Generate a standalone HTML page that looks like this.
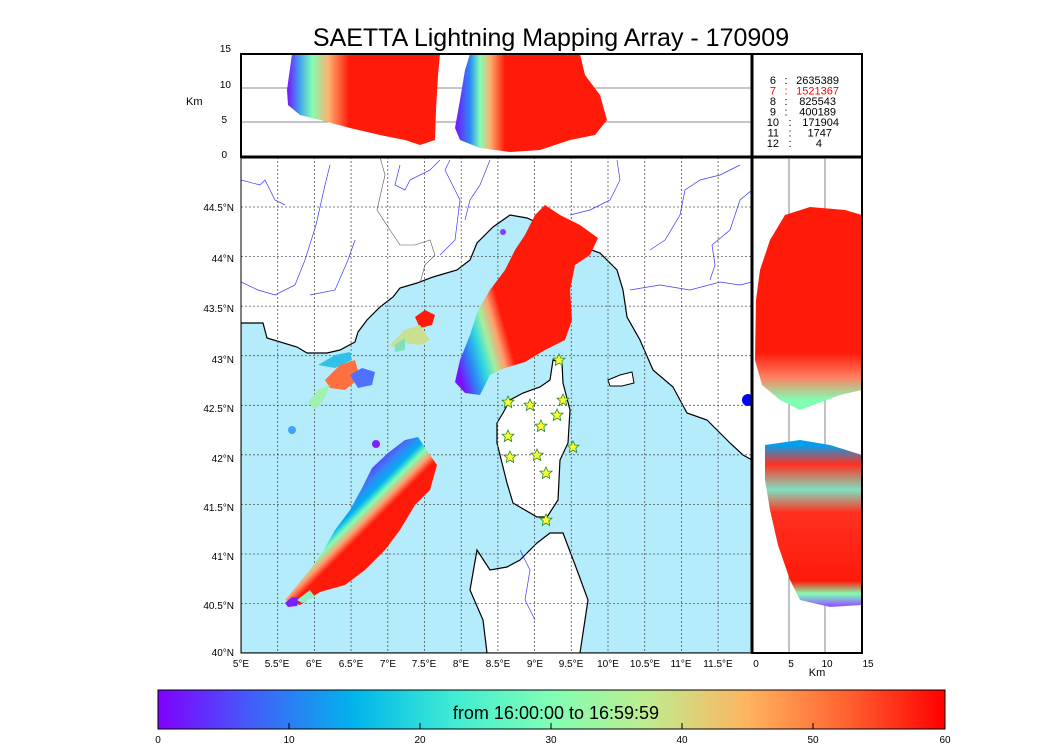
<!DOCTYPE html>
<html><head><meta charset="utf-8"><style>
body{margin:0;background:#fff;}
text{font-family:"Liberation Sans",sans-serif;}
</style></head><body>
<svg width="1050" height="750" xmlns="http://www.w3.org/2000/svg">
<defs>
<linearGradient id="rb" x1="0" y1="0" x2="1" y2="0">
<stop offset="0" stop-color="#8000ff"/><stop offset="0.125" stop-color="#4062fa"/><stop offset="0.25" stop-color="#00b5eb"/><stop offset="0.375" stop-color="#40ecd4"/><stop offset="0.5" stop-color="#80ffb4"/><stop offset="0.625" stop-color="#c0eb8d"/><stop offset="0.75" stop-color="#ffb360"/><stop offset="0.875" stop-color="#ff6230"/><stop offset="1" stop-color="#ff0000"/>
</linearGradient>
<linearGradient id="ne" gradientUnits="userSpaceOnUse" x1="456" y1="362" x2="518" y2="345">
<stop offset="0" stop-color="#7a10ff"/><stop offset="0.22" stop-color="#2a8af5"/><stop offset="0.4" stop-color="#30d8e0"/><stop offset="0.56" stop-color="#a0f0a0"/><stop offset="0.72" stop-color="#ffa070"/><stop offset="0.88" stop-color="#ff1a0a"/><stop offset="1" stop-color="#ff1a0a"/>
</linearGradient>
<linearGradient id="sw" gradientUnits="userSpaceOnUse" x1="352" y1="462" x2="418" y2="528">
<stop offset="0" stop-color="#7a10ff"/><stop offset="0.15" stop-color="#6030ff"/><stop offset="0.28" stop-color="#3a80f5"/><stop offset="0.38" stop-color="#00b0f0"/><stop offset="0.46" stop-color="#80ffb4"/><stop offset="0.54" stop-color="#ffa070"/><stop offset="0.62" stop-color="#ff1a0a"/><stop offset="1" stop-color="#ff1a0a"/>
</linearGradient>
<linearGradient id="t1" gradientUnits="userSpaceOnUse" x1="287" y1="0" x2="370" y2="0">
<stop offset="0" stop-color="#7a10ff"/><stop offset="0.15" stop-color="#40a0f0"/><stop offset="0.3" stop-color="#80ffb4"/><stop offset="0.5" stop-color="#ffb070"/><stop offset="0.75" stop-color="#ff1a0a"/><stop offset="1" stop-color="#ff1a0a"/>
</linearGradient>
<linearGradient id="t2" gradientUnits="userSpaceOnUse" x1="455" y1="0" x2="505" y2="0">
<stop offset="0" stop-color="#7a10ff"/><stop offset="0.3" stop-color="#2a8af5"/><stop offset="0.5" stop-color="#80ffb4"/><stop offset="0.7" stop-color="#ffb070"/><stop offset="1" stop-color="#ff1a0a"/>
</linearGradient>
<linearGradient id="r1" gradientUnits="userSpaceOnUse" x1="0" y1="400" x2="0" y2="210">
<stop offset="0" stop-color="#80ffb4"/><stop offset="0.12" stop-color="#ff8060"/><stop offset="0.25" stop-color="#ff1a0a"/><stop offset="1" stop-color="#ff1a0a"/>
</linearGradient>
<linearGradient id="r2" gradientUnits="userSpaceOnUse" x1="0" y1="445" x2="0" y2="605">
<stop offset="0" stop-color="#00a0f0"/><stop offset="0.12" stop-color="#ff3020"/><stop offset="0.28" stop-color="#80e0c0"/><stop offset="0.42" stop-color="#ff3020"/><stop offset="0.85" stop-color="#ff1a0a"/><stop offset="0.93" stop-color="#80ffb4"/><stop offset="1" stop-color="#9060ff"/>
</linearGradient>
<clipPath id="cm"><rect x="241" y="157" width="511" height="496"/></clipPath>
<path id="st" d="M0,-6 L1.8,-2 6,-1.8 2.8,1 3.7,5.5 0,3 -3.7,5.5 -2.8,1 -6,-1.8 -1.8,-2Z"/>
</defs>

<text x="551" y="46" font-size="25" text-anchor="middle">SAETTA Lightning Mapping Array - 170909</text>

<g clip-path="url(#cm)">
<rect x="241" y="157" width="511" height="496" fill="#fff"/>
<polygon fill="#b5ecfb" stroke="#000" stroke-width="1.2" points="241,323 263,323 267,338 297,347 307,353 327,353 340,350 355,342 358,332 367,320 380,307 393,297 400,288 417,283 433,277 457,270 470,260 477,243 493,227 510,215 527,218 547,227 567,238 583,247 600,253 617,270 623,290 627,317 640,340 653,370 673,387 687,413 707,420 730,443 743,455 752,460 752,653 241,653"/>
<polygon fill="#fff" stroke="#000" stroke-width="1.2" points="553,360 562,363 563,383 570,410 568,443 560,460 558,500 547,517 537,517 513,503 507,483 502,463 497,443 497,423 503,413 510,400 523,393 540,387 550,380"/>
<polygon fill="#fff" stroke="#000" stroke-width="1.2" points="550,533 563,533 577,570 588,600 580,653 487,653 483,620 470,590 477,550 490,570 507,567 520,560 537,543"/>
<polygon fill="#fff" stroke="#000" stroke-width="1" points="608,380 620,375 632,372 634,383 622,386 610,386"/>
<g fill="none" stroke="#3a3aff" stroke-width="0.7">
<polyline points="241,180 260,185 265,180 275,200 285,205"/>
<polyline points="330,165 325,185 316,225 305,260 295,285 275,295 258,290 241,282"/>
<polyline points="355,240 348,260 335,290 310,295"/>
<polyline points="400,165 395,185 405,190 410,180 430,170 440,160"/>
<polyline points="450,160 445,170 460,200 455,240 440,255"/>
<polyline points="490,160 480,185 470,200 465,220"/>
<polyline points="617,160 620,180 610,200 590,210 570,215"/>
<polyline points="630,290 660,285 690,290 720,282 740,285 752,282"/>
<polyline points="650,250 665,240 680,215 685,190 700,180 720,175 740,165"/>
<polyline points="710,280 715,265 712,245 730,230 740,200 752,190"/>
<polyline points="520,550 530,570 525,600 535,620"/>
</g>
<g fill="none" stroke="#555" stroke-width="0.6">
<polyline points="380,157 385,175 377,210 390,230 400,245 415,245 430,240 435,255 425,265 420,283"/>
</g>
<g stroke="#555" stroke-width="0.8" stroke-dasharray="2,2">
<line x1="277.7" y1="157" x2="277.7" y2="653"/><line x1="314.4" y1="157" x2="314.4" y2="653"/><line x1="351.1" y1="157" x2="351.1" y2="653"/><line x1="387.8" y1="157" x2="387.8" y2="653"/><line x1="424.5" y1="157" x2="424.5" y2="653"/><line x1="461.2" y1="157" x2="461.2" y2="653"/><line x1="497.9" y1="157" x2="497.9" y2="653"/><line x1="534.6" y1="157" x2="534.6" y2="653"/><line x1="571.3" y1="157" x2="571.3" y2="653"/><line x1="608" y1="157" x2="608" y2="653"/><line x1="644.7" y1="157" x2="644.7" y2="653"/><line x1="681.4" y1="157" x2="681.4" y2="653"/><line x1="718.1" y1="157" x2="718.1" y2="653"/>
<line x1="241" y1="603.5" x2="752" y2="603.5"/><line x1="241" y1="554" x2="752" y2="554"/><line x1="241" y1="504.4" x2="752" y2="504.4"/><line x1="241" y1="454.8" x2="752" y2="454.8"/><line x1="241" y1="405.3" x2="752" y2="405.3"/><line x1="241" y1="355.7" x2="752" y2="355.7"/><line x1="241" y1="306.1" x2="752" y2="306.1"/><line x1="241" y1="256.6" x2="752" y2="256.6"/><line x1="241" y1="207" x2="752" y2="207"/>
</g>
<polygon fill="url(#ne)" points="455,382 460,360 470,335 478,310 490,290 505,270 515,250 525,235 535,215 545,205 560,215 580,225 598,238 590,255 575,265 570,290 572,320 565,340 545,350 525,362 505,368 490,375 480,395 465,393"/>
<polygon fill="url(#sw)" points="285,600 295,588 310,570 322,553 335,530 350,510 362,488 372,468 388,453 405,440 418,437 430,455 437,465 430,490 415,505 400,530 385,550 365,570 345,585 320,592 300,605"/>
<polygon fill="#ff1a0a" points="415,317 425,310 435,315 432,325 420,328"/>
<polygon fill="#c8e090" points="390,345 405,330 420,325 430,340 420,345 405,343 395,348"/>
<polygon fill="#7ee0c0" points="395,345 405,338 405,350 395,352"/>
<polygon fill="#30c0e8" points="318,365 335,355 350,352 352,360 335,368"/>
<polygon fill="#ff7040" points="325,380 340,365 355,360 360,378 345,390 330,388"/>
<polygon fill="#5070ff" points="350,375 362,368 375,372 372,385 358,388"/>
<polygon fill="#a0f0b0" points="308,402 318,390 330,385 325,398 315,410"/>
<circle cx="292" cy="430" r="4" fill="#40a0ff"/>
<circle cx="376" cy="444" r="4" fill="#8020ff"/>
<polygon fill="#7a20ff" points="285,603 292,597 300,598 297,606 288,607"/>
<polygon fill="#90f0c0" points="297,600 310,590 315,597 302,603"/>
<circle cx="503" cy="232" r="3" fill="#8040ff"/>
<g fill="#ffff33" stroke="#228b22" stroke-width="0.8">
<use href="#st" x="508" y="402"/><use href="#st" x="530" y="405"/><use href="#st" x="563" y="400"/><use href="#st" x="559" y="360"/><use href="#st" x="557" y="415"/><use href="#st" x="541" y="426"/><use href="#st" x="508" y="436"/><use href="#st" x="573" y="447"/><use href="#st" x="510" y="457"/><use href="#st" x="537" y="455"/><use href="#st" x="546" y="473"/><use href="#st" x="546" y="520"/>
</g>
<circle cx="748" cy="400" r="6" fill="#0000ff"/>
</g>
<rect x="241" y="157" width="511" height="496" fill="none" stroke="#000" stroke-width="1"/>

<rect x="241" y="54" width="511" height="103" fill="#fff"/>
<line x1="241" y1="88" x2="752" y2="88" stroke="#666" stroke-width="0.8"/>
<line x1="241" y1="122" x2="752" y2="122" stroke="#666" stroke-width="0.8"/>
<polygon fill="url(#t1)" points="287,90 292,54 440,54 438,75 436,110 435,140 420,145 405,140 380,135 350,128 320,120 300,115 288,105"/>
<polygon fill="url(#t2)" points="455,128 460,100 465,70 470,54 580,54 585,75 600,95 607,120 595,135 570,140 540,150 510,152 480,148 460,140"/>
<rect x="241" y="54" width="621" height="103" fill="none" stroke="#000" stroke-width="2"/>
<line x1="752" y1="54" x2="752" y2="653" stroke="#000" stroke-width="3"/>
<line x1="241" y1="157" x2="862" y2="157" stroke="#000" stroke-width="3"/>

<g font-size="11">
<g text-anchor="end"><text x="776" y="84">6</text><text x="776" y="94.5" fill="#ff0000">7</text><text x="776" y="105">8</text><text x="776" y="115.5">9</text><text x="779" y="126">10</text><text x="779" y="136.5">11</text><text x="779" y="147">12</text></g>
<g text-anchor="middle"><text x="786" y="84">:</text><text x="786" y="94.5" fill="#ff0000">:</text><text x="786" y="105">:</text><text x="786" y="115.5">:</text><text x="790" y="126">:</text><text x="790" y="136.5">:</text><text x="790" y="147">:</text></g>
<g text-anchor="end"><text x="839" y="84">2635389</text><text x="839" y="94.5" fill="#ff0000">1521367</text><text x="836" y="105">825543</text><text x="836" y="115.5">400189</text><text x="839" y="126">171904</text><text x="832" y="136.5">1747</text><text x="822" y="147">4</text></g>
</g>

<line x1="789" y1="157" x2="789" y2="653" stroke="#666" stroke-width="0.8"/>
<line x1="825" y1="157" x2="825" y2="653" stroke="#666" stroke-width="0.8"/>
<polygon fill="url(#r1)" points="770,240 785,215 810,207 845,210 862,215 862,390 840,395 800,410 780,400 762,385 755,360 756,300 760,270"/>
<polygon fill="url(#r2)" points="765,445 800,440 830,445 862,455 862,605 830,607 800,600 790,580 778,545 770,510 765,480"/>
<rect x="752" y="157" width="110" height="496" fill="none" stroke="#000" stroke-width="2"/>

<g font-size="10" text-anchor="end">
<text x="231" y="52">15</text><text x="231" y="88">10</text><text x="227" y="123">5</text><text x="227" y="158">0</text>
<text x="234" y="211">44.5°N</text><text x="234" y="262">44°N</text><text x="234" y="312">43.5°N</text><text x="234" y="363">43°N</text><text x="234" y="412">42.5°N</text><text x="234" y="462">42°N</text><text x="234" y="511">41.5°N</text><text x="234" y="560">41°N</text><text x="234" y="609">40.5°N</text><text x="234" y="656">40°N</text>
</g>
<text x="186" y="105" font-size="11">Km</text>
<g font-size="10" text-anchor="middle">
<text x="241" y="667">5°E</text><text x="277" y="667">5.5°E</text><text x="314" y="667">6°E</text><text x="351" y="667">6.5°E</text><text x="388" y="667">7°E</text><text x="424" y="667">7.5°E</text><text x="461" y="667">8°E</text><text x="498" y="667">8.5°E</text><text x="535" y="667">9°E</text><text x="571" y="667">9.5°E</text><text x="608" y="667">10°E</text><text x="645" y="667">10.5°E</text><text x="681" y="667">11°E</text><text x="718" y="667">11.5°E</text>
<text x="756" y="667">0</text><text x="791" y="667">5</text><text x="827" y="667">10</text><text x="868" y="667">15</text>
</g>
<text x="817" y="676" font-size="11" text-anchor="middle">Km</text>

<rect x="158" y="690" width="787" height="39" fill="url(#rb)" stroke="#000" stroke-width="1"/>
<text x="556" y="719" font-size="18" text-anchor="middle">from 16:00:00 to 16:59:59</text>
<g stroke="#000" stroke-width="1">
<line x1="289" y1="723" x2="289" y2="729"/><line x1="420" y1="723" x2="420" y2="729"/><line x1="551" y1="723" x2="551" y2="729"/><line x1="682" y1="723" x2="682" y2="729"/><line x1="813" y1="723" x2="813" y2="729"/>
</g>
<g font-size="10" text-anchor="middle">
<text x="158" y="743">0</text><text x="289" y="743">10</text><text x="420" y="743">20</text><text x="551" y="743">30</text><text x="682" y="743">40</text><text x="813" y="743">50</text><text x="945" y="743">60</text>
</g>
</svg>
</body></html>
